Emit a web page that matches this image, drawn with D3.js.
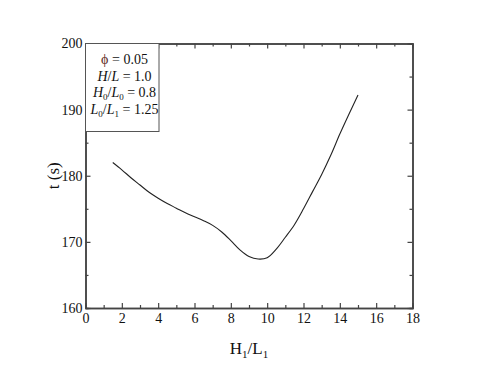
<!DOCTYPE html>
<html>
<head>
<meta charset="utf-8">
<script src="https://cdn.jsdelivr.net/npm/d3@7"></script>
<style>
  body { margin: 0; background: #fff; }
</style>
</head>
<body>
<div id="chart"></div>
<script>
// data
const ratio = [1.5, 2, 2.5, 3, 3.5, 4, 4.5, 5, 5.5, 6, 6.5, 7, 7.5, 8, 8.5, 9, 9.5, 10, 10.5, 11, 11.5, 12, 12.5, 13, 13.5, 14, 14.5, 15];
const time = [182.0, 180.9, 179.7, 178.6, 177.5, 176.6, 175.8, 175.1, 174.4, 173.8, 173.2, 172.5, 171.5, 170.2, 168.8, 167.8, 167.4, 167.6, 168.9, 170.7, 172.6, 175.0, 177.6, 180.2, 183.1, 186.3, 189.3, 192.2];
const xTicks = [0, 2, 4, 6, 8, 10, 12, 14, 16, 18];
const yTicks = [160, 170, 180, 190, 200];

const width = 480, height = 371;
const margin = { left: 85.5, right: 67.5, top: 43.5, bottom: 63 };
const serif = "'Liberation Serif', 'Times New Roman', serif";
const svg = d3.select("#chart").append("svg")
  .attr("width", width).attr("height", height)
  .attr("font-family", serif);

const x = d3.scaleLinear().domain([0, 18]).range([margin.left, width - margin.right]);
const y = d3.scaleLinear().domain([160, 200]).range([height - margin.bottom, margin.top]);

const axisColor = "#444";
const minorX = d3.range(1, 18, 2);
const minorY = d3.range(165, 200, 10);

// bottom axis
const gb = svg.append("g").attr("transform", `translate(0,${y(160)})`)
  .call(d3.axisBottom(x).tickValues(xTicks).tickSizeInner(-5).tickSizeOuter(0).tickPadding(5));
gb.append("g").call(d3.axisBottom(x).tickValues(minorX).tickSize(-3).tickFormat(""));
// top axis
const gt = svg.append("g").attr("transform", `translate(0,${y(200)})`)
  .call(d3.axisTop(x).tickValues(xTicks).tickSizeInner(-5).tickSizeOuter(0).tickFormat(""));
gt.append("g").call(d3.axisTop(x).tickValues(minorX).tickSize(-3).tickFormat(""));
// left axis
const gl = svg.append("g").attr("transform", `translate(${x(0)},0)`)
  .call(d3.axisLeft(y).tickValues(yTicks).tickSizeInner(-5).tickSizeOuter(0).tickPadding(3));
gl.append("g").call(d3.axisLeft(y).tickValues(minorY).tickSize(-3).tickFormat(""));
// right axis
const gr = svg.append("g").attr("transform", `translate(${x(18)},0)`)
  .call(d3.axisRight(y).tickValues(yTicks).tickSizeInner(-5).tickSizeOuter(0).tickFormat(""));
gr.append("g").call(d3.axisRight(y).tickValues(minorY).tickSize(-3).tickFormat(""));

svg.selectAll("g").attr("font-family", serif).attr("font-size", 14);
svg.selectAll(".domain").attr("stroke", axisColor).attr("stroke-width", 1.5);
svg.selectAll(".tick line").attr("stroke", axisColor).attr("stroke-width", 1.2);
svg.selectAll(".tick text").attr("fill", "#111");

// curve
const line = d3.line()
  .x((d, i) => x(ratio[i]))
  .y(d => y(d))
  .curve(d3.curveCatmullRom.alpha(0.5));
svg.append("path")
  .datum(time)
  .attr("d", line)
  .attr("fill", "none")
  .attr("stroke", "#222")
  .attr("stroke-width", 1.1);

// legend box
svg.append("rect")
  .attr("x", x(0)).attr("y", y(200))
  .attr("width", 73.5).attr("height", 88)
  .attr("fill", "#fff")
  .attr("stroke", "#555").attr("stroke-width", 1);

const lg = svg.append("g").attr("font-size", 14).attr("fill", "#111");
const cx = x(0) + 39;
const l1 = lg.append("text").attr("x", cx).attr("y", 64).attr("text-anchor", "middle");
l1.append("tspan").attr("fill", "#5a2a1a").text("ϕ");
l1.append("tspan").text(" = 0.05");

const l2 = lg.append("text").attr("x", cx).attr("y", 81).attr("text-anchor", "middle");
l2.append("tspan").attr("font-style", "italic").text("H");
l2.append("tspan").text("/");
l2.append("tspan").attr("font-style", "italic").text("L");
l2.append("tspan").text(" = 1.0");

const l3 = lg.append("text").attr("x", cx).attr("y", 97).attr("text-anchor", "middle");
l3.append("tspan").attr("font-style", "italic").text("H");
l3.append("tspan").attr("font-size", 9).attr("dy", 3).text("0");
l3.append("tspan").attr("dy", -3).text("/");
l3.append("tspan").attr("font-style", "italic").text("L");
l3.append("tspan").attr("font-size", 9).attr("dy", 3).text("0");
l3.append("tspan").attr("dy", -3).text(" = 0.8");

const l4 = lg.append("text").attr("x", cx).attr("y", 113.5).attr("text-anchor", "middle");
l4.append("tspan").attr("font-style", "italic").text("L");
l4.append("tspan").attr("font-size", 9).attr("dy", 3).text("0");
l4.append("tspan").attr("dy", -3).text("/");
l4.append("tspan").attr("font-style", "italic").text("L");
l4.append("tspan").attr("font-size", 9).attr("dy", 3).text("1");
l4.append("tspan").attr("dy", -3).text(" = 1.25");

// axis titles
const xt = svg.append("text")
  .attr("x", (x(0) + x(18)) / 2).attr("y", 354)
  .attr("text-anchor", "middle").attr("font-size", 17).attr("fill", "#111");
xt.append("tspan").text("H");
xt.append("tspan").attr("font-size", 11).attr("dy", 4).text("1");
xt.append("tspan").attr("dy", -4).text("/L");
xt.append("tspan").attr("font-size", 11).attr("dy", 4).text("1");

svg.append("text")
  .attr("transform", `translate(59,${y(180)}) rotate(-90)`)
  .attr("text-anchor", "middle")
  .attr("font-size", 17).attr("fill", "#111")
  .text("t (s)");
</script>
</body>
</html>
